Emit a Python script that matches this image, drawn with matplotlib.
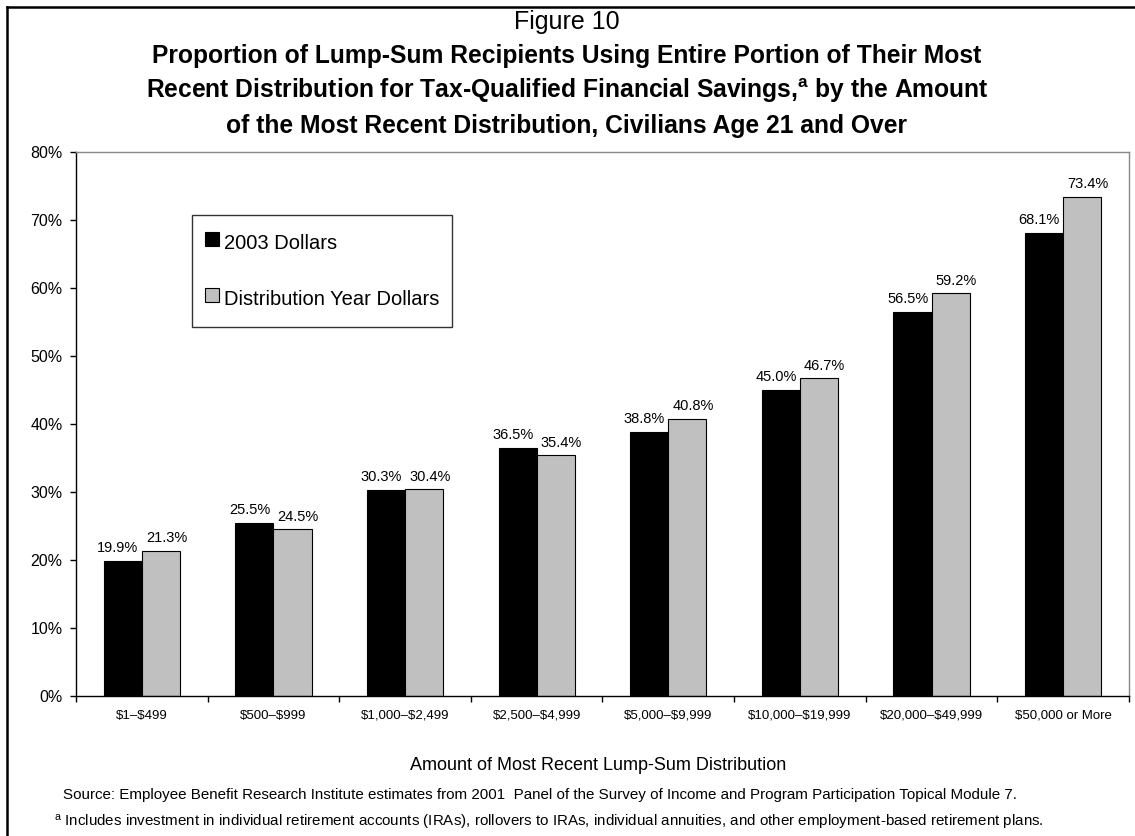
import matplotlib
matplotlib.use('Agg')
import matplotlib.pyplot as plt
from matplotlib.lines import Line2D
import numpy as np

plt.rcParams['font.family'] = ['Liberation Sans', 'DejaVu Sans']
plt.rcParams['mathtext.fontset'] = 'custom'
plt.rcParams['mathtext.rm'] = 'Liberation Sans'
plt.rcParams['mathtext.bf'] = 'Liberation Sans:bold'
plt.rcParams['mathtext.it'] = 'Liberation Sans:italic'

# ---------------- data ----------------
categories = ['$1–$499', '$500–$999', '$1,000–$2,499', '$2,500–$4,999',
              '$5,000–$9,999', '$10,000–$19,999', '$20,000–$49,999', '$50,000 or More']
series_names = ['2003 Dollars', 'Distribution Year Dollars']
dollars_2003 = [19.9, 25.5, 30.3, 36.5, 38.8, 45.0, 56.5, 68.1]
dist_year = [21.3, 24.5, 30.4, 35.4, 40.8, 46.7, 59.2, 73.4]
y_ticks = [0, 10, 20, 30, 40, 50, 60, 70, 80]

title_top = 'Figure 10'
title_lines = ['Proportion of Lump-Sum Recipients Using Entire Portion of Their Most',
               r'Recent Distribution for Tax-Qualified Financial Savings,$^{\mathbf{a}}$ by the Amount',
               'of the Most Recent Distribution, Civilians Age 21 and Over']
x_label = 'Amount of Most Recent Lump-Sum Distribution'
source = 'Source: Employee Benefit Research Institute estimates from 2001  Panel of the Survey of Income and Program Participation Topical Module 7.'
footnote = r'$^{\mathrm{a}}$ Includes investment in individual retirement accounts (IRAs), rollovers to IRAs, individual annuities, and other employment-based retirement plans.'

# ---------------- layout ----------------
W, H = 1135, 836
fig = plt.figure(figsize=(W / 100, H / 100), dpi=100)
fig.patch.set_facecolor('white')

def fx(px):
    return px / W

def fy(py):
    return 1 - py / H

ax_l, ax_r, ax_t, ax_b = 76, 1129, 152, 696
ax = fig.add_axes([fx(ax_l), fy(ax_b), fx(ax_r) - fx(ax_l), fy(ax_t) - fy(ax_b)])

x = np.arange(len(categories))
bw = 0.29
ax.bar(x - bw / 2, dollars_2003, bw, color='black', edgecolor='black', linewidth=0.8, zorder=2)
ax.bar(x + bw / 2, dist_year, bw, color='#C0C0C0', edgecolor='black', linewidth=0.8, zorder=2)

for xi, v in zip(x, dollars_2003):
    ax.annotate(f'{v:.1f}%', (xi - bw / 2, v), xytext=(-3.5, 6.3), textcoords='offset points',
                ha='center', va='baseline', fontsize=10.5)
for xi, v in zip(x, dist_year):
    ax.annotate(f'{v:.1f}%', (xi + bw / 2, v), xytext=(4.0, 6.3), textcoords='offset points',
                ha='center', va='baseline', fontsize=10.5)

ax.set_xlim(-0.5, len(categories) - 0.5)
ax.set_ylim(0, 80)
ax.set_yticks(y_ticks)
ax.set_yticklabels([f'{t}%' for t in y_ticks], fontsize=11.5)
ax.tick_params(axis='y', direction='out', length=4.3, width=1, pad=5.5, color='black')

ax.set_xticks(x)
ax.set_xticklabels([c.replace('$', r'\$') for c in categories], fontsize=9.5)
ax.tick_params(axis='x', which='major', length=0, pad=10)
ax.set_xticks(np.arange(-0.5, len(categories), 1.0), minor=True)
ax.tick_params(axis='x', which='minor', direction='out', length=4.3, width=1, color='black')

for s in ['left', 'bottom']:
    ax.spines[s].set_color('black')
    ax.spines[s].set_linewidth(1)
for s in ['top', 'right']:
    ax.spines[s].set_color('#888888')
    ax.spines[s].set_linewidth(1)

handles = [Line2D([], [], marker='s', markersize=10, markerfacecolor='black',
                  markeredgecolor='black', markeredgewidth=0.8, linestyle='None'),
           Line2D([], [], marker='s', markersize=10, markerfacecolor='#C0C0C0',
                  markeredgecolor='black', markeredgewidth=0.8, linestyle='None')]
leg = ax.legend(handles, series_names, loc='upper left',
                bbox_to_anchor=((192 - ax_l) / (ax_r - ax_l), (ax_b - 215) / (ax_b - ax_t)),
                borderaxespad=0, fontsize=14.5, frameon=True, fancybox=False,
                edgecolor='#333333', framealpha=1, borderpad=0.65, handlelength=0.72,
                handleheight=1.9, handletextpad=0.22, labelspacing=1.3)
leg.get_frame().set_linewidth(1)

# ---------------- texts ----------------
fig.text(fx(567), fy(22), title_top, fontsize=18, ha='center', va='center')
for i, line in enumerate(title_lines):
    fig.text(fx(567), fy(56 + 35 * i), line, fontsize=17.7, fontweight='bold',
             ha='center', va='center')

fig.text(fx(598), fy(766), x_label, fontsize=13, ha='center', va='center')
fig.text(fx(63), fy(795), source, fontsize=10.9, ha='left', va='center')
fig.text(fx(54), fy(823), footnote, fontsize=10.9, ha='left', va='center')

# outer frame (left and top edges visible)
fig.add_artist(Line2D([fx(7), fx(7)], [0, fy(7)], color='black', lw=1.8))
fig.add_artist(Line2D([fx(7), 1], [fy(7), fy(7)], color='black', lw=1.8))

fig.savefig('out.png', dpi=100)
